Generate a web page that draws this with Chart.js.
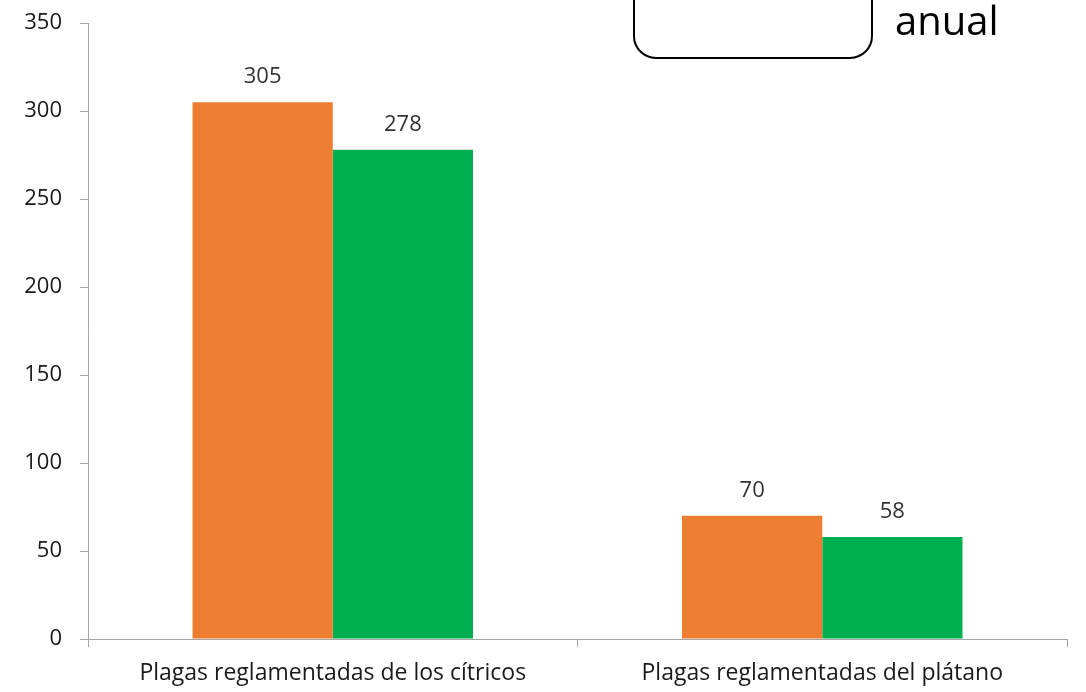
<!DOCTYPE html>
<html>
<head>
<meta charset="utf-8">
<script src="https://cdn.jsdelivr.net/npm/chart.js@4"></script>
<style>
  html, body { margin: 0; padding: 0; background: #fff; }
  #wrap { width: 1086px; height: 692px; }
</style>
</head>
<body>
<div id="wrap"><canvas id="chart"></canvas></div>
<script>
// datos
const categories = ['Plagas reglamentadas de los cítricos', 'Plagas reglamentadas del plátano'];
const seriesA = [305, 70];
const seriesB = [278, 58];
const yTicks = [0, 50, 100, 150, 200, 250, 300, 350];

const FONT = '"Open Sans", "Liberation Sans", sans-serif';

// etiquetas de valor encima de cada barra
const valueLabels = {
    id: 'valueLabels',
    afterDatasetsDraw(chart) {
        const ctx = chart.ctx;
        ctx.save();
        ctx.font = '22px ' + FONT;
        ctx.fillStyle = '#333';
        ctx.textAlign = 'center';
        ctx.textBaseline = 'alphabetic';
        chart.data.datasets.forEach((ds, i) => {
            chart.getDatasetMeta(i).data.forEach((bar, j) => {
                ctx.fillText(ds.data[j], bar.x, bar.y - 19);
            });
        });
        ctx.restore();
    }
};

// recuadro recortado arriba a la derecha
const topNote = {
    id: 'topNote',
    afterDraw(chart) {
        const ctx = chart.ctx;
        ctx.save();
        ctx.strokeStyle = '#000';
        ctx.lineWidth = 2;
        ctx.beginPath();
        ctx.roundRect(634, -60, 238, 118, 22);
        ctx.stroke();
        ctx.fillStyle = '#000';
        ctx.font = '40px ' + FONT;
        ctx.textBaseline = 'alphabetic';
        ctx.textAlign = 'left';
        ctx.fillText('anual', 895, 35);
        ctx.textAlign = 'center';
        ctx.fillText('total', 752, -3);
        ctx.restore();
    }
};

new Chart(document.getElementById('chart'), {
    type: 'bar',
    data: {
        labels: categories,
        datasets: [
            { data: seriesA, backgroundColor: '#ED7D31', categoryPercentage: 0.573, barPercentage: 1 },
            { data: seriesB, backgroundColor: '#00B050', categoryPercentage: 0.573, barPercentage: 1 }
        ]
    },
    options: {
        responsive: true,
        maintainAspectRatio: false,
        animation: false,
        layout: { padding: { top: 23, right: 19, left: 0, bottom: 0 } },
        plugins: { legend: { display: false }, tooltip: { enabled: false } },
        scales: {
            x: {
                grid: { offset: true, drawOnChartArea: false, color: '#a6a6a6', tickLength: 8 },
                border: { color: '#a6a6a6' },
                ticks: { color: '#1a1a1a', font: { family: FONT, size: 23 }, padding: 13, maxRotation: 0 },
                afterFit(scale) { scale.height = 53; }
            },
            y: {
                min: 0,
                max: 350,
                afterBuildTicks(scale) { scale.ticks = yTicks.map(v => ({ value: v })); },
                grid: { drawOnChartArea: false, color: '#a6a6a6', tickLength: 8 },
                border: { color: '#a6a6a6' },
                ticks: { color: '#1a1a1a', font: { family: FONT, size: 22 }, padding: 18 },
                afterFit(scale) {
                    scale.width = 88;
                    scale.paddingTop = 0;
                    scale.paddingBottom = 0;
                }
            }
        }
    },
    plugins: [valueLabels, topNote]
});
</script>
</body>
</html>
